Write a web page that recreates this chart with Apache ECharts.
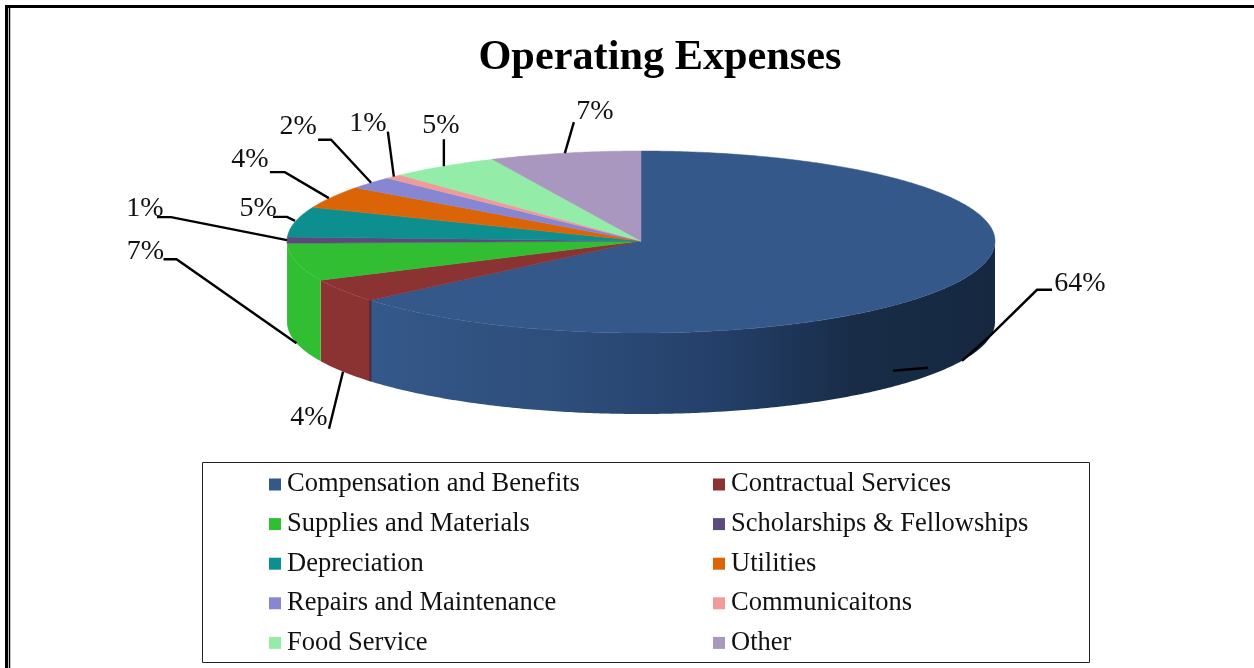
<!DOCTYPE html>
<html>
<head>
<meta charset="utf-8">
<style>html,body{margin:0;padding:0;background:#fff}#c{width:1254px;height:668px}</style>
<script src="https://cdn.jsdelivr.net/npm/echarts@6/dist/echarts.min.js"></script>
</head>
<body>
<div id="c"></div>
<script>
// clockwise from 12 o'clock
const categories = ['Compensation and Benefits','Contractual Services','Supplies and Materials','Scholarships & Fellowships','Depreciation','Utilities','Repairs and Maintenance','Communicaitons','Food Service','Other'];
const values = [63.85,4.15,6.6,1.1,5.4,4.0,2.2,0.8,5.0,6.9];
const colors = ['#34588A','#8B3333','#32BE32','#5C4A7E','#0E8F8F','#DB6406','#8686D2','#F09A9A','#93EDA9','#A997BF'];

// leader elbows and label centres, in pixels relative to each slice's rim anchor
const leaderElbows = [
  [[[-69,10],[-34,7]],[[0,0],[28,-25],[75,-71],[90,-71]]],
  [[[0,0],[-14,57]]],
  [[[0,0],[-120,-84],[-133,-84]]],
  [[[0,0],[-116,-23],[-130,-23]]],
  [[[0,-1],[-8,-5],[-22,-5]]],
  [[[-3,1],[-47,-25],[-62,-25]]],
  [[[0,0],[-40,-43],[-53,-43]]],
  [[[0,0],[-6,-45]]],
  [[[0,0],[0,-27]]],
  [[[0,0],[9,-31]]]
];
const labelOffsets = [[118,-77],[-34,46],[-151,-92],[-142,-32],[-37,-13],[-82,-38],[-73,-56],[-26,-53],[-3,-41],[30,-41]];

const CX = 641, CY = 241, RX = 354, RY_BACK = 90, RY_FRONT = 92, DEPTH = 81;
const SERIF = '"Liberation Serif","Times New Roman",serif';

const total = values.reduce((a,b)=>a+b,0);
const ends = []; let acc = 0;
values.forEach(v=>{acc+=v; ends.push(acc);});
const angle = p => p/total*2*Math.PI;
const pt = (t,dy=0)=>{
  const c=Math.cos(t);
  return [CX+RX*Math.sin(t), CY-(c<0?RY_FRONT:RY_BACK)*c+dy];
};
function arc(a,b,dy){
  const n=Math.max(2,Math.ceil((b-a)/0.01)),out=[];
  for(let i=0;i<=n;i++) out.push(pt(a+(b-a)*i/n,dy));
  return out;
}
const wallFill = i => i===0 ? {type:'linear',x:0,y:0,x2:1,y2:0,colorStops:[
  {offset:0,color:'#34588A'},{offset:.3,color:'#2E4E7B'},{offset:.55,color:'#24406A'},{offset:.78,color:'#182C47'},{offset:1,color:'#162840'}]} : colors[i];

function sliceItem(i){
  return function(){
    const a=angle(ends[i]-values[i]), b=angle(ends[i]);
    const children=[];
    const wa=Math.max(a,Math.PI/2), wb=Math.min(b,Math.PI*1.5);
    if(wb>wa){
      const top=arc(wa,wb,0), bot=arc(wa,wb,DEPTH).reverse();
      children.push({type:'polygon',shape:{points:top.concat(bot)},style:{fill:wallFill(i),stroke:null},z2:1});
      if(i===0){
        const e0=pt(b,0), e1=pt(b,DEPTH);
        children.push({type:'line',shape:{x1:e0[0],y1:e0[1],x2:e1[0],y2:e1[1]},style:{stroke:'#4B2A3C',lineWidth:2},z2:8});
      }
    }
    children.push({type:'polygon',shape:{points:[[CX,CY]].concat(arc(a,b,0))},
      style:{fill:colors[i],stroke:colors[i],lineWidth:.5},z2:5});
    return {type:'group',children};
  };
}
function labelItem(params){
  const i=params.dataIndex;
  const m=angle(ends[i]-values[i]/2);
  const front=Math.cos(m)<0;
  const a=pt(m,front?DEPTH:0);
  const kids=leaderElbows[i].map(pl=>({type:'polyline',
    shape:{points:pl.map(p=>[a[0]+p[0],a[1]+p[1]])},
    style:{fill:null,stroke:'#000',lineWidth:2.4}}));
  kids.push({type:'text',x:a[0]+labelOffsets[i][0],y:a[1]+labelOffsets[i][1],
    style:{text:Math.round(values[i])+'%',font:'28px '+SERIF,fill:'#111',align:'center',verticalAlign:'middle'}});
  return {type:'group',children:kids};
}
const series = categories.map((name,i)=>({
  type:'custom',name,coordinateSystem:'none',silent:true,animation:false,clip:false,
  itemStyle:{color:colors[i]},z:2,
  data:[[values[i]]],renderItem:sliceItem(i)
}));
series.push({type:'custom',name:'labels',coordinateSystem:'none',silent:true,animation:false,z:5,
  data:values.map(v=>[v]),renderItem:labelItem});

const legendBase={orient:'vertical',top:471,height:195,itemWidth:12,itemHeight:12,itemGap:12.6,icon:'rect',selectedMode:false,
  textStyle:{fontFamily:SERIF,fontSize:26.5,color:'#111',padding:[0,0,0,1]},padding:0};

const chart=echarts.init(document.getElementById('c'),null,{renderer:'canvas'});
chart.setOption({
  animation:false,backgroundColor:'#fff',
  title:{text:'Operating Expenses',left:655,top:32,textAlign:'center',
    textStyle:{fontFamily:SERIF,fontSize:42.3,fontWeight:'bold',color:'#000'}},
  legend:[
    Object.assign({},legendBase,{left:269,data:categories.filter((c,i)=>i%2===0)}),
    Object.assign({},legendBase,{left:713,data:categories.filter((c,i)=>i%2===1)})
  ],
  graphic:[
    {type:'rect',shape:{x:202.5,y:462.5,width:887,height:200},style:{fill:null,stroke:'#222',lineWidth:1},silent:true},
    {type:'polyline',shape:{points:[[6.5,668],[6.5,6.5],[1254,6.5]]},style:{fill:null,stroke:'#000',lineWidth:3},silent:true},
    {type:'line',shape:{x1:9.5,y1:8,x2:9.5,y2:668},style:{stroke:'#000',lineWidth:1.5},silent:true}
  ],
  series
});
</script>
</body>
</html>
